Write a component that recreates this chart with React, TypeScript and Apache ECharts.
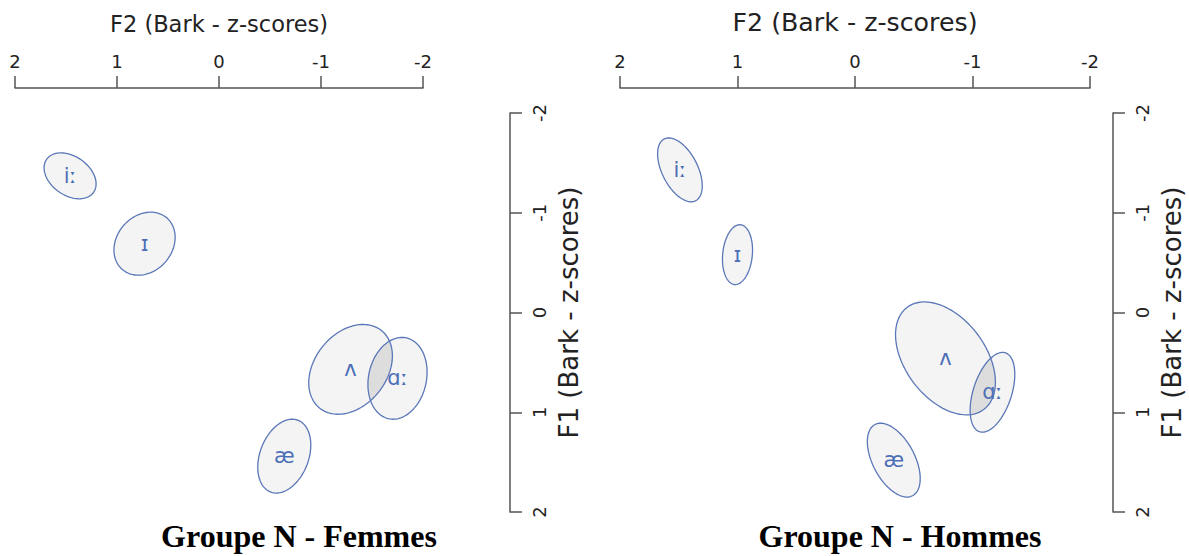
import React, { useEffect, useRef } from "react";
import * as echarts from "echarts";

// Vowel labels
const vowels = ["iː", "ɪ", "ʌ", "ɑː", "æ"];
// Tick values
const tickValues = [2, 1, 0, -1, -2];

// Groupe N - Femmes: mean F2, mean F1, spread (F2, F1) and correlation
const femmesF2 = [1.46, 0.73, -1.29, -1.75, -0.64];
const femmesF1 = [-1.37, -0.69, 0.57, 0.66, 1.44];
const femmesSdF2 = [0.255, 0.3, 0.41, 0.29, 0.26];
const femmesSdF1 = [0.23, 0.316, 0.45, 0.41, 0.37];
const femmesR = [-0.35, 0.2, 0.3, 0.15, 0.3];

// Groupe N - Hommes
const hommesF2 = [1.49, 1.0, -0.77, -1.17, -0.33];
const hommesF1 = [-1.43, -0.58, 0.46, 0.8, 1.48];
const hommesSdF2 = [0.19, 0.128, 0.425, 0.19, 0.225];
const hommesSdF1 = [0.32, 0.3, 0.566, 0.4, 0.37];
const hommesR = [-0.5, 0.15, -0.42, 0.45, -0.5];

// Overlapping pairs (indices into vowels)
const overlapPairs = [[2, 3]];

const panelTitles = ["Groupe N - Femmes", "Groupe N - Hommes"];
const axisNameF2 = "F2 (Bark - z-scores)";
const axisNameF1 = "F1 (Bark - z-scores)";

type Panel = { f2: number[]; f1: number[]; sx: number[]; sy: number[]; r: number[] };
const panels: Panel[] = [
  { f2: femmesF2, f1: femmesF1, sx: femmesSdF2, sy: femmesSdF1, r: femmesR },
  { f2: hommesF2, f1: hommesF1, sx: hommesSdF2, sy: hommesSdF1, r: hommesR },
];

const N = 120;
function ellipsePoints(p: Panel, i: number): number[][] {
  const out: number[][] = [];
  const r = p.r[i];
  const q = Math.sqrt(1 - r * r);
  for (let k = 0; k < N; k++) {
    const t = (2 * Math.PI * k) / N;
    const c = Math.cos(t), s = Math.sin(t);
    out.push([p.f2[i] + p.sx[i] * c, p.f1[i] + p.sy[i] * (r * c + q * s)]);
  }
  return out;
}
function inside(p: Panel, i: number, x: number, y: number): boolean {
  const u = (x - p.f2[i]) / p.sx[i];
  const r = p.r[i];
  const v = ((y - p.f1[i]) / p.sy[i] - r * u) / Math.sqrt(1 - r * r);
  return u * u + v * v <= 1.0000001;
}

const LINE = "#555555";
const TEXT = "#222222";
const STROKE = "#5a77b8";
const LABEL = "#4d6fb6";
const SANS = "DejaVu Sans";

export default function App() {
  const ref = useRef<HTMLDivElement>(null);
  useEffect(() => {
    if (!ref.current) return;
    const chart = echarts.init(ref.current, undefined, { renderer: "svg" });

    const grids = [
      { left: 15, top: 113, width: 408, height: 399 },
      { left: 620, top: 113, width: 470, height: 399 },
    ];
    const yOffsets = [87, 23];
    const xNameSizes = [22.5, 25.3];

    const xAxes = grids.map((_, gi) => ({
      type: "value",
      gridIndex: gi,
      min: -2,
      max: 2,
      interval: 1,
      inverse: true,
      position: "top",
      offset: 25,
      name: axisNameF2,
      nameLocation: "middle",
      nameGap: 53,
      nameTextStyle: { fontFamily: SANS, fontSize: xNameSizes[gi], color: TEXT },
      axisLine: { show: true, onZero: false, lineStyle: { color: LINE, width: 1.5 } },
      axisTick: { show: true, length: 12, lineStyle: { color: LINE, width: 1.5 } },
      axisLabel: {
        fontFamily: SANS,
        fontSize: 18,
        color: TEXT,
        margin: 18,
        formatter: (v: number) => (tickValues.includes(v) ? String(v) : ""),
      },
      splitLine: { show: false },
    }));
    const yAxes = grids.map((_, gi) => ({
      type: "value",
      gridIndex: gi,
      min: -2,
      max: 2,
      interval: 1,
      inverse: true,
      position: "right",
      offset: yOffsets[gi],
      name: axisNameF1,
      nameLocation: "middle",
      nameRotate: 90,
      nameGap: 46,
      nameTextStyle: { fontFamily: SANS, fontSize: 26, color: TEXT },
      axisLine: { show: true, onZero: false, lineStyle: { color: LINE, width: 1.5 } },
      axisTick: { show: true, length: 12, lineStyle: { color: LINE, width: 1.5 } },
      axisLabel: {
        fontFamily: SANS,
        fontSize: 18,
        color: TEXT,
        rotate: 90,
        margin: 20,
        formatter: (v: number) => (tickValues.includes(v) ? String(v) : ""),
      },
      splitLine: { show: false },
    }));

    const series: any[] = [];
    panels.forEach((p, gi) => {
      const centers = vowels.map((_, i) => [p.f2[i], p.f1[i]]);
      series.push({
        type: "custom",
        xAxisIndex: gi,
        yAxisIndex: gi,
        clip: false,
        encode: { x: 0, y: 1 },
        data: centers,
        z: 1,
        renderItem: (params: any, api: any) => {
          const pts = ellipsePoints(p, params.dataIndex).map((q) => api.coord(q));
          return { type: "polygon", shape: { points: pts }, style: { fill: "#f4f4f4", stroke: "none" } };
        },
      });
      series.push({
        type: "custom",
        xAxisIndex: gi,
        yAxisIndex: gi,
        clip: false,
        encode: { x: 0, y: 1 },
        data: overlapPairs.map((pr) => [p.f2[pr[0]], p.f1[pr[0]]]),
        z: 2,
        renderItem: (params: any, api: any) => {
          const [a, b] = overlapPairs[params.dataIndex];
          const pts: number[][] = [];
          ellipsePoints(p, a).forEach((q) => {
            if (inside(p, b, q[0], q[1])) pts.push(q);
          });
          ellipsePoints(p, b).forEach((q) => {
            if (inside(p, a, q[0], q[1])) pts.push(q);
          });
          if (pts.length < 3) return null;
          const px = pts.map((q) => api.coord(q));
          let cx = 0, cy = 0;
          px.forEach((q) => { cx += q[0]; cy += q[1]; });
          cx /= px.length; cy /= px.length;
          px.sort((m, n) => Math.atan2(m[1] - cy, m[0] - cx) - Math.atan2(n[1] - cy, n[0] - cx));
          return { type: "polygon", shape: { points: px }, style: { fill: "#dddddd", stroke: "none" } };
        },
      });
      series.push({
        type: "custom",
        xAxisIndex: gi,
        yAxisIndex: gi,
        clip: false,
        encode: { x: 0, y: 1 },
        data: centers,
        z: 3,
        renderItem: (params: any, api: any) => {
          const pts = ellipsePoints(p, params.dataIndex).map((q) => api.coord(q));
          return { type: "polygon", shape: { points: pts }, style: { fill: "none", stroke: STROKE, lineWidth: 1.3 } };
        },
      });
      series.push({
        type: "custom",
        xAxisIndex: gi,
        yAxisIndex: gi,
        clip: false,
        encode: { x: 0, y: 1 },
        data: centers,
        z: 4,
        renderItem: (params: any, api: any) => {
          const c = api.coord([api.value(0), api.value(1)]);
          return {
            type: "text",
            x: c[0],
            y: c[1],
            style: {
              text: vowels[params.dataIndex],
              align: "center",
              verticalAlign: "middle",
              fontFamily: SANS,
              fontSize: 21,
              fill: LABEL,
            },
          };
        },
      });
    });

    chart.setOption({
      animation: false,
      backgroundColor: "#ffffff",
      grid: grids.map((g) => ({ ...g, containLabel: false })),
      xAxis: xAxes,
      yAxis: yAxes,
      series,
      graphic: [
        {
          type: "text",
          x: 299,
          y: 536,
          style: {
            text: panelTitles[0],
            align: "center",
            verticalAlign: "middle",
            fontFamily: "Liberation Serif",
            fontWeight: "bold",
            fontSize: 32,
            fill: "#000",
          },
        },
        {
          type: "text",
          x: 900,
          y: 536,
          style: {
            text: panelTitles[1],
            align: "center",
            verticalAlign: "middle",
            fontFamily: "Liberation Serif",
            fontWeight: "bold",
            fontSize: 32,
            fill: "#000",
          },
        },
      ],
    });
    return () => chart.dispose();
  }, []);
  return (
    <div
      ref={ref}
      style={{ position: "absolute", left: 0, top: 0, width: 1189, height: 556 }}
    />
  );
}
